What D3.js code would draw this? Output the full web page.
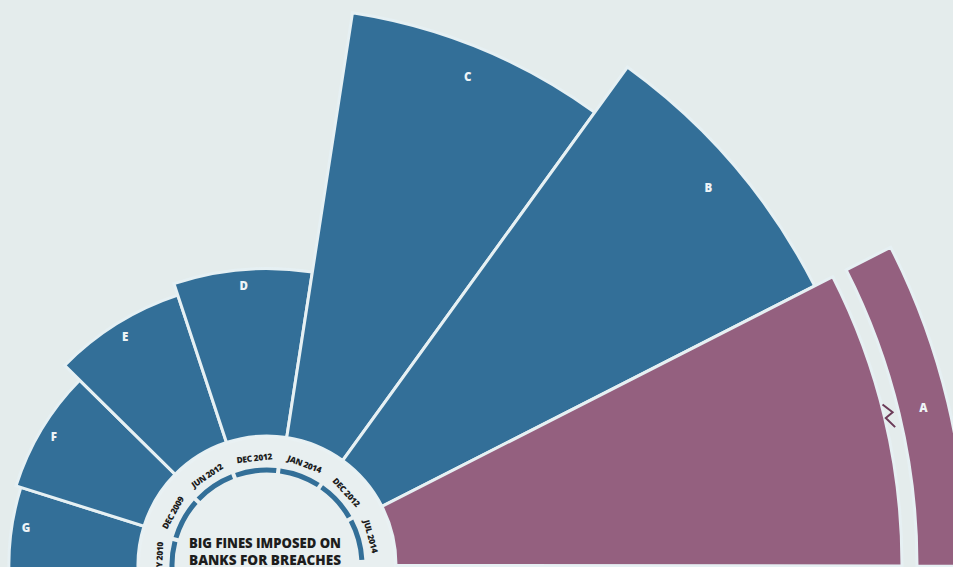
<!DOCTYPE html>
<html><head><meta charset="utf-8">
<script src="https://cdn.jsdelivr.net/npm/d3@7/dist/d3.min.js"></script>
<style>html,body{margin:0;padding:0;background:#e4ecec;overflow:hidden}</style>
</head><body>
<svg id="c" width="953" height="567"></svg>
<script>
// ---- data ----
const categories = ['G','F','E','D','C','B','A'];
const values = [0.516, 0.536, 0.619, 0.667, 1.7, 1.92, 8.9];   // fines, $bn (A is off-scale)
const dateLabels = ['JULY 2010','DEC 2009','JUN 2012','DEC 2012','JAN 2014','DEC 2012','JUL 2014'];
const titleLines = ['BIG FINES IMPOSED ON','BANKS FOR BREACHES'];
const scaleMax = 2;            // values above this are drawn with an axis break
const highlight = 'A';

// ---- layout ----
const W = 953, H = 567, cx = 267, cy = 565;
const deg = Math.PI / 180;
const BG = '#e4ecec', BLUE = '#336f98', PURPLE = '#94607f', RING = '#e8eff0';
const innerR = 129;
const svg = d3.select('#c');
svg.append('rect').attr('width', W).attr('height', H).attr('fill', BG);
const g = svg.append('g').attr('transform', `translate(${cx},${cy})`);

const ang = d3.scaleBand().domain(categories).range([-99.6 * deg, 90.1 * deg]).paddingInner(0).paddingOuter(0);
const rad = d3.scaleLinear().domain([0, scaleMax]).range([127, 635]);
const gap = 15, breakBand = 50;

const data = categories.map((c, i) => ({c, v: values[i], date: dateLabels[i],
  a0: ang(c), a1: ang(c) + ang.bandwidth()}));

const arc = d3.arc();
// main bars
g.selectAll('path.bar').data(data).join('path').attr('class','bar')
  .attr('d', d => arc({innerRadius: innerR, outerRadius: rad(Math.min(d.v, scaleMax)), startAngle: d.a0, endAngle: d.a1}))
  .attr('fill', d => d.c === highlight ? PURPLE : BLUE)
  .attr('stroke', '#e6f0f3').attr('stroke-width', 3).attr('stroke-linejoin','miter');

// broken-axis continuation band
const broken = data.filter(d => d.v > scaleMax);
g.selectAll('path.brk').data(broken).join('path').attr('class','brk')
  .attr('d', d => arc({innerRadius: rad(scaleMax) + gap, outerRadius: rad(scaleMax) + gap + breakBand, startAngle: d.a0, endAngle: d.a1}))
  .attr('fill', PURPLE).attr('stroke', '#e6f0f3').attr('stroke-width', 3);

// zigzag break mark
broken.forEach(d => {
  const m = (d.a0 + d.a1) / 2 / deg;
  const r0 = rad(scaleMax);
  const pts = [[-13, r0 + 1], [-3, r0 + 9], [1, r0 + 1], [12, r0 + 8]];
  g.append('path')
    .attr('transform', `rotate(${m})`)
    .attr('d', d3.line().x(p => p[0]).y(p => -p[1])(pts))
    .attr('fill', 'none').attr('stroke', '#6b3b58').attr('stroke-width', 2);
});

// letter labels
g.selectAll('text.lbl').data(data).join('text').attr('class','lbl')
  .each(function(d) {
    const a0 = Math.max(d.a0, -90 * deg), a1 = Math.min(d.a1, 90 * deg);
    const m = (a0 + a1) / 2;
    const r = d.v > scaleMax ? rad(scaleMax) + gap + breakBand / 2 : rad(d.v) * 0.945;
    d3.select(this).attr('x', r * Math.sin(m)).attr('y', -r * Math.cos(m));
  })
  .attr('text-anchor','middle').attr('dominant-baseline','central')
  .attr('font-family','Open Sans, sans-serif').attr('font-weight', 800).attr('font-size', 11.5)
  .attr('fill', '#eef4f7').text(d => d.c);

// inner ring
g.append('circle').attr('r', innerR - 1).attr('fill', RING).attr('stroke', '#e9f1f3').attr('stroke-width', 2);
const rot = -2 * deg;
g.selectAll('path.seg').data(data).join('path').attr('class','seg')
  .attr('d', d => arc({innerRadius: 92.5, outerRadius: 97.5, startAngle: d.a0 + rot, endAngle: d.a1 + rot, padAngle: 0.03}))
  .attr('fill', BLUE);

g.selectAll('text.date').data(data).join('text').attr('class','date')
  .attr('transform', d => `rotate(${((d.a0 + d.a1) / 2 + rot) / deg}) translate(0,-108)`)
  .attr('text-anchor','middle').attr('dominant-baseline','central')
  .attr('font-family','Open Sans, sans-serif').attr('font-weight', 800).attr('font-size', 8.4)
  .attr('letter-spacing', -0.3)
  .attr('fill', '#1d1d1d').text(d => d.date);

// title
svg.selectAll('text.title').data(titleLines).join('text').attr('class','title')
  .attr('x', 265).attr('y', (d, i) => 548 + i * 16.5)
  .attr('text-anchor','middle')
  .attr('font-family','Open Sans, sans-serif').attr('font-weight', 800).attr('font-size', 13.5)
  .attr('textLength', 152).attr('lengthAdjust','spacingAndGlyphs')
  .attr('fill', '#1d1d1d').text(d => d);
</script>
</body></html>
